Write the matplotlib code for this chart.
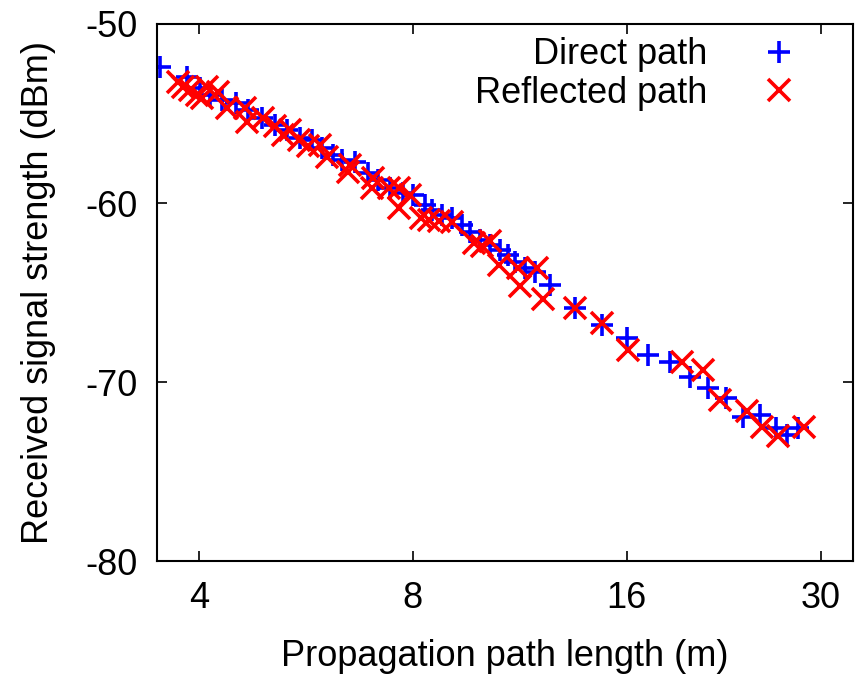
import matplotlib
matplotlib.use("Agg")
import matplotlib.pyplot as plt

plt.rcParams['font.family'] = ['Liberation Sans', 'DejaVu Sans']
plt.rcParams['axes.unicode_minus'] = False

# Direct path measurements: path length (m) and received power (dBm)
direct_len = [3.53, 3.85, 4.01, 4.15, 4.31, 4.51, 4.69, 4.91, 5.12, 5.32,
              5.55, 5.77, 5.96, 6.17, 6.36, 6.63, 6.91, 7.14, 7.43, 7.75,
              8.00, 8.32, 8.51, 8.79, 9.08, 9.38, 9.62, 9.94, 10.27, 10.60,
              10.88, 11.13, 11.50, 11.88, 12.47, 13.52, 14.76, 16.00, 17.13, 18.39,
              19.62, 20.80, 22.05, 23.30, 24.61, 25.92, 26.87, 27.84]
direct_rss = [-52.40, -52.96, -53.58, -53.97, -54.25, -54.41, -54.80, -55.25, -55.64, -55.92,
              -56.37, -56.48, -56.93, -57.32, -57.60, -57.71, -58.32, -58.72, -59.16, -59.44,
              -59.55, -60.11, -60.39, -60.67, -60.84, -61.23, -61.62, -62.07, -62.35, -62.63,
              -62.91, -63.30, -63.63, -63.85, -64.58, -65.87, -66.82, -67.54, -68.49, -68.88,
              -69.72, -70.34, -70.89, -71.96, -71.84, -72.57, -72.96, -72.57]

# Reflected path measurements
reflected_len = [3.74, 3.80, 3.89, 3.97, 4.04, 4.11, 4.25, 4.38, 4.64, 4.67,
                 4.92, 5.12, 5.25, 5.37, 5.53, 5.69, 5.92, 6.06, 6.52, 6.48,
                 7.03, 7.00, 7.40, 7.65, 7.92, 7.65, 8.21, 8.43, 8.70, 9.08,
                 9.75, 10.00, 10.27, 10.57, 11.24, 11.31, 11.95, 12.19, 13.52, 14.76,
                 16.05, 19.12, 20.47, 21.63, 23.60, 24.78, 26.09, 28.39]
reflected_rss = [-53.24, -53.52, -53.69, -53.97, -54.13, -53.52, -53.80, -54.69, -54.69, -55.47,
                 -55.25, -55.70, -56.20, -55.92, -56.48, -56.82, -56.76, -57.43, -57.88, -58.27,
                 -58.60, -59.16, -59.16, -59.16, -59.55, -60.28, -60.84, -60.95, -61.01, -61.06,
                 -62.23, -62.40, -62.12, -63.46, -63.63, -64.64, -63.63, -65.36, -65.87, -66.70,
                 -68.21, -68.88, -69.33, -71.01, -71.62, -72.51, -73.02, -72.51]

x_ticks = [4, 8, 16, 30]
y_ticks = [-80, -70, -60, -50]

fig = plt.figure(figsize=(8.55, 6.76), dpi=100)
ax = fig.add_axes([0.1836, 0.170, 0.814, 0.7945])

ax.plot(direct_len, direct_rss, linestyle='none', marker='+', color='#0000ff',
        markersize=16.5, markeredgewidth=2.6, label='Direct path')
ax.plot(reflected_len, reflected_rss, linestyle='none', marker='x', color='#ff0000',
        markersize=15.5, markeredgewidth=2.6, label='Reflected path')

ax.set_xscale('log', base=2)
ax.set_xlim(3.49, 33.3)
ax.set_ylim(-80, -50)
ax.set_xticks(x_ticks)
ax.set_xticklabels([str(t) for t in x_ticks])
ax.xaxis.set_minor_locator(matplotlib.ticker.NullLocator())
ax.set_yticks(y_ticks)

ax.tick_params(axis='both', which='major', direction='in', length=7, width=1.2,
               labelsize=26, top=True, right=True)
ax.tick_params(axis='x', pad=14)
ax.tick_params(axis='y', pad=14)
for s in ax.spines.values():
    s.set_linewidth(1.5)

ax.set_xlabel('Propagation path length (m)', fontsize=26, labelpad=17)
ax.set_ylabel('Received signal strength (dBm)', fontsize=26, labelpad=21)

ax.legend(loc='upper right', bbox_to_anchor=(0.946, 0.975), frameon=False,
          markerfirst=False, fontsize=26, handlelength=2.0, handletextpad=1.0,
          labelspacing=0.09, borderpad=0, borderaxespad=0, numpoints=1)

fig.savefig('out.png', dpi=100)
